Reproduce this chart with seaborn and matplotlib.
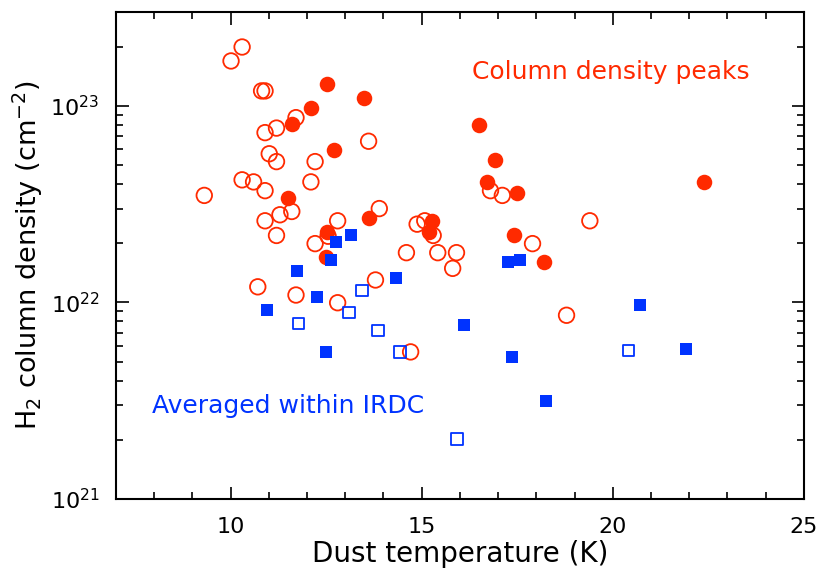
import matplotlib
matplotlib.use("Agg")
import matplotlib.pyplot as plt
import matplotlib.ticker as mticker
import seaborn as sns
import pandas as pd
import numpy as np

# Column density peaks (open circles)
peak_open_T = [10.30, 10.01, 10.81, 10.90, 11.71, 11.20, 10.90, 11.01, 11.20, 10.30,
               10.60, 10.90, 9.31, 12.10, 12.21, 13.61, 11.60, 11.29, 10.90, 11.20,
               12.21, 12.55, 12.80, 13.89, 14.60, 14.88, 15.08, 15.30, 15.42, 15.91,
               15.81, 10.71, 11.71, 12.80, 13.79, 14.71, 16.80, 17.11, 19.40, 17.90, 18.79]
peak_open_N = [1.99e23, 1.69e23, 1.19e23, 1.19e23, 8.7e22, 7.7e22, 7.3e22, 5.7e22, 5.2e22, 4.2e22,
               4.1e22, 3.7e22, 3.5e22, 4.1e22, 5.2e22, 6.6e22, 2.9e22, 2.79e22, 2.6e22, 2.19e22,
               1.99e22, 2.17e22, 2.6e22, 3.0e22, 1.79e22, 2.5e22, 2.6e22, 2.19e22, 1.79e22, 1.79e22,
               1.49e22, 1.2e22, 1.09e22, 9.96e21, 1.30e22, 5.6e21, 3.7e22, 3.5e22, 2.6e22, 1.99e22, 8.6e21]

# Column density peaks (filled circles)
peak_fill_T = [12.51, 13.50, 12.10, 11.60, 12.71, 11.51, 12.51, 12.49, 13.61, 15.28,
               15.20, 16.51, 16.92, 16.70, 17.50, 22.39, 17.41, 18.21]
peak_fill_N = [1.29e23, 1.09e23, 9.7e22, 8.1e22, 5.96e22, 3.38e22, 2.29e22, 1.70e22, 2.69e22, 2.6e22,
               2.29e22, 8.0e22, 5.3e22, 4.1e22, 3.59e22, 4.1e22, 2.19e22, 1.6e22]

# Averaged within IRDC (filled squares)
irdc_fill_T = [13.14, 12.76, 12.62, 11.74, 14.34, 12.27, 10.96, 12.49, 16.10, 17.26,
               17.57, 20.71, 17.35, 18.25, 21.92]
irdc_fill_N = [2.21e22, 2.03e22, 1.65e22, 1.45e22, 1.33e22, 1.07e22, 9.2e21, 5.58e21, 7.7e21, 1.6e22,
               1.64e22, 9.7e21, 5.3e21, 3.14e21, 5.77e21]

# Averaged within IRDC (open squares)
irdc_open_T = [13.43, 13.10, 11.78, 13.85, 14.43, 15.93, 20.41]
irdc_open_N = [1.15e22, 8.9e21, 7.8e21, 7.2e21, 5.6e21, 2.02e21, 5.7e21]

x_ticks = [10, 15, 20, 25]

RED = "#ff2a00"
BLUE = "#0033ff"

sns.set_style("ticks")
plt.rcParams["font.family"] = ["DejaVu Sans"]
plt.rcParams["text.color"] = "black"
plt.rcParams["axes.labelcolor"] = "black"

fig = plt.figure(figsize=(8.21, 5.69), dpi=100)
ax = fig.add_axes([0.1413, 0.123, 0.8378, 0.856])

df_po = pd.DataFrame({"T": peak_open_T, "N": peak_open_N})
df_pf = pd.DataFrame({"T": peak_fill_T, "N": peak_fill_N})
df_if = pd.DataFrame({"T": irdc_fill_T, "N": irdc_fill_N})
df_io = pd.DataFrame({"T": irdc_open_T, "N": irdc_open_N})

sns.scatterplot(data=df_po, x="T", y="N", ax=ax, marker="o", s=125,
                facecolors="none", edgecolor=RED, linewidth=1.3, zorder=2)
sns.scatterplot(data=df_pf, x="T", y="N", ax=ax, marker="o", s=125,
                color=RED, edgecolor=RED, linewidth=0, zorder=3)
sns.scatterplot(data=df_io, x="T", y="N", ax=ax, marker="s", s=70,
                facecolors="none", edgecolor=BLUE, linewidth=1.3, zorder=4)
sns.scatterplot(data=df_if, x="T", y="N", ax=ax, marker="s", s=80,
                color=BLUE, edgecolor=BLUE, linewidth=0, zorder=5)

ax.set_yscale("log")
ax.set_xlim(7, 25)
ax.set_ylim(1e21, 3e23)

ax.set_xticks(x_ticks)
ax.xaxis.set_minor_locator(mticker.MultipleLocator(1))
ax.yaxis.set_major_locator(mticker.LogLocator(base=10, numticks=10))
ax.yaxis.set_minor_locator(mticker.LogLocator(base=10, subs=np.arange(2, 10), numticks=20))
ax.yaxis.set_minor_formatter(mticker.NullFormatter())
ax.yaxis.set_major_formatter(mticker.FuncFormatter(lambda v, p: r"$10^{%d}$" % round(np.log10(v))))

ax.tick_params(which="both", direction="in", top=True, right=True, colors="black",
               labelcolor="black", labelsize=16, width=1.2)
ax.tick_params(axis="x", which="major", length=9, pad=13)
ax.tick_params(axis="y", which="major", length=9, pad=12)
ax.tick_params(which="minor", length=5)
for sp in ax.spines.values():
    sp.set_visible(True)
    sp.set_color("black")
    sp.set_linewidth(1.5)

ax.set_xlabel("Dust temperature (K)", fontsize=20, labelpad=2, color="black")
ax.set_ylabel(r"H$_2$ column density (cm$^{-2}$)", fontsize=19.5, labelpad=4, color="black")

ax.text(0.517, 0.877, "Column density peaks", transform=ax.transAxes, color=RED,
        fontsize=18, va="center", ha="left")
ax.text(0.052, 0.191, "Averaged within IRDC", transform=ax.transAxes, color=BLUE,
        fontsize=18, va="center", ha="left")

fig.savefig("out.png", dpi=100)
